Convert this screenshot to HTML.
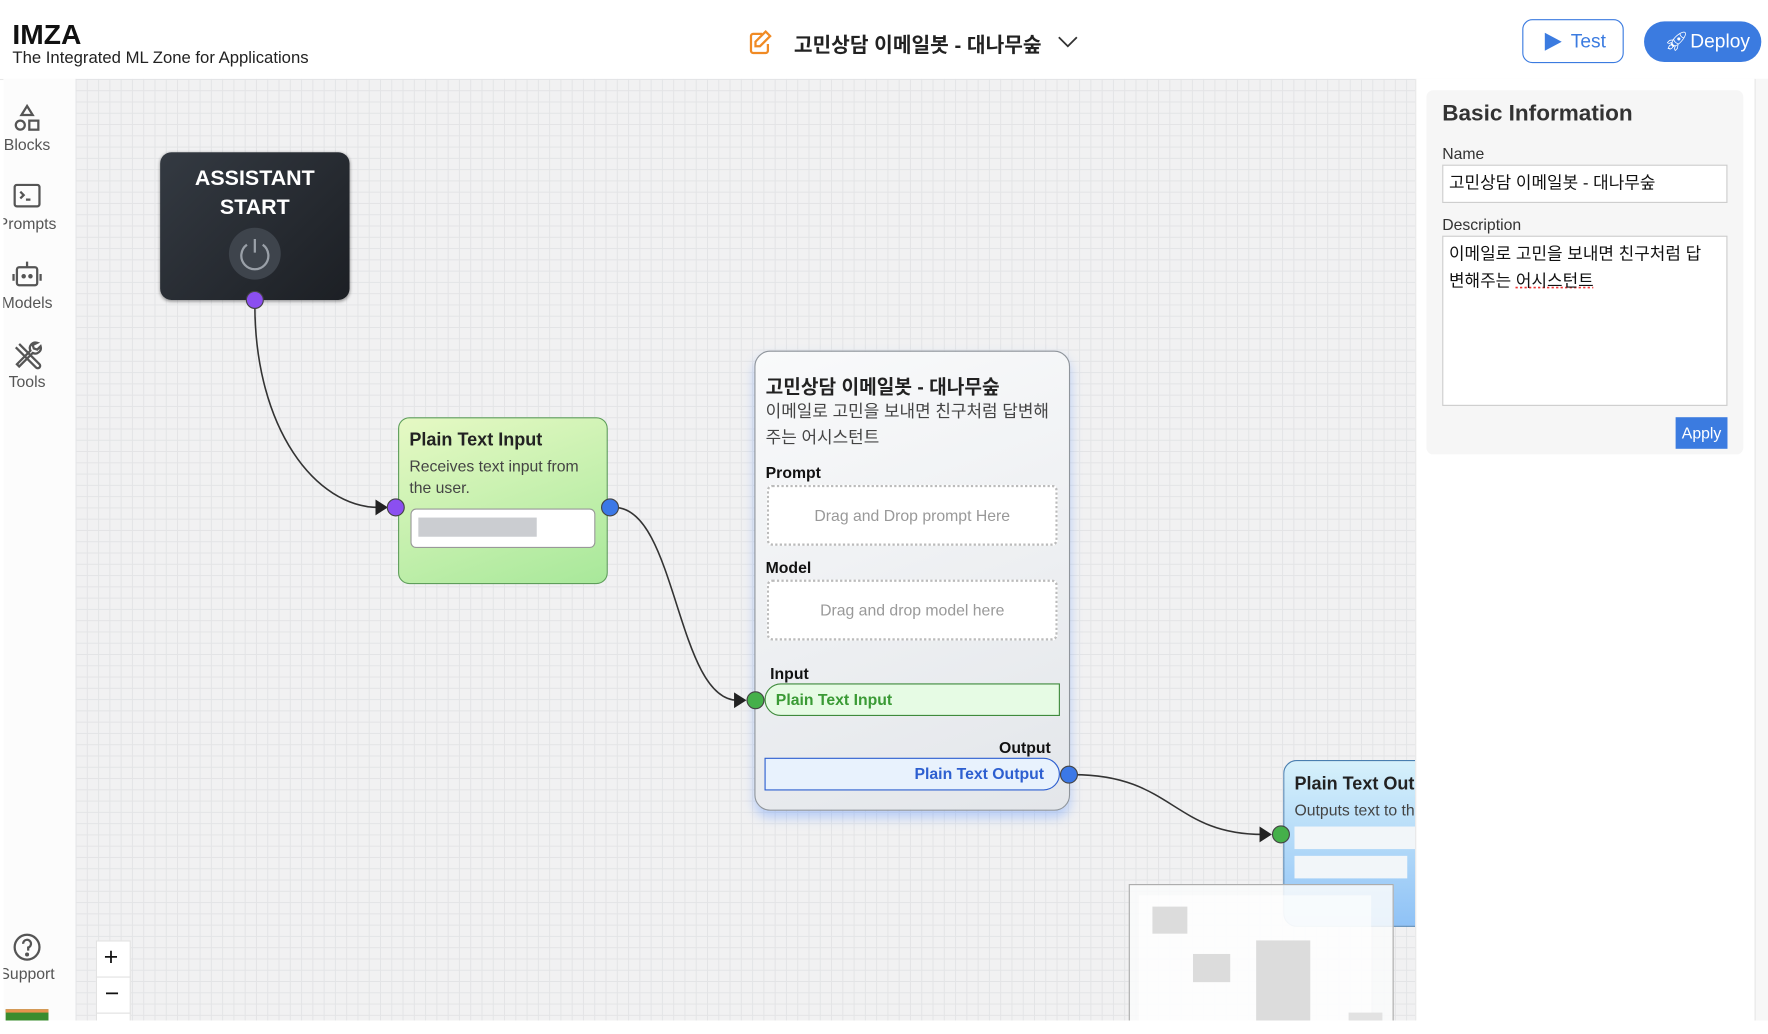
<!DOCTYPE html>
<html><head><meta charset="utf-8">
<style>
html,body{margin:0;padding:0;background:#fff;width:1768px;height:1034px;overflow:hidden}
#w{position:absolute;left:0;top:0;width:1568px;height:905px;transform:scale(1.1276);transform-origin:0 0;font-family:"Liberation Sans","Noto Sans CJK KR",sans-serif;overflow:hidden;background:#fff}
.a{position:absolute}
.canvas{left:67px;top:70px;width:1188px;height:835px;background-color:#f1f1f2;background-image:linear-gradient(#e3e4e6 1px,transparent 1px),linear-gradient(90deg,#e3e4e6 1px,transparent 1px);background-size:10px 10px}
.side{left:3px;top:70px;width:64px;height:835px;background:#fcfcfc;border-right:1px solid #eee;overflow:hidden}
.lbl{position:absolute;width:64px;text-align:center;font-size:14px;color:#555;left:-11px}
.h{position:absolute;width:16px;height:16px;border-radius:50%;border:1px solid #444;box-sizing:border-box}
</style></head><body><div id="w">
<!-- header -->
<div class="a" style="left:0;top:0;width:1568px;height:70px;background:#fff;border-bottom:1px solid #e6e6e6"></div>
<div class="a" style="left:11px;top:17px;font-size:25px;font-weight:bold;color:#111">IMZA</div>
<div class="a" style="left:11px;top:44px;font-size:14.8px;color:#222">The Integrated ML Zone for Applications</div>
<svg class="a" style="left:662px;top:26px" width="24" height="24" viewBox="0 0 24 24"><path d="M14 4H6a2 2 0 0 0-2 2v13a2 2 0 0 0 2 2h11a2 2 0 0 0 2-2v-6" fill="none" stroke="#f08a24" stroke-width="2"/><path d="M17 2l4 4-9 9H8v-4z" fill="none" stroke="#f08a24" stroke-width="2"/></svg>
<div class="a" style="left:704px;top:26px;font-size:18px;font-weight:bold;color:#222">고민상담 이메일봇 - 대나무숲</div>
<svg class="a" style="left:937px;top:30px" width="20" height="14"><path d="M2 3l8 8 8-8" fill="none" stroke="#333" stroke-width="1.6"/></svg>
<div class="a" style="left:1350px;top:17px;width:90px;height:39px;border:1.5px solid #3b7be0;border-radius:9px;box-sizing:border-box"></div>
<svg class="a" style="left:1368px;top:28px" width="18" height="18"><path d="M2 1l15 8-15 8z" fill="#3b7be0"/></svg>
<div class="a" style="left:1393px;top:27px;font-size:17px;color:#3b7be0">Test</div>
<div class="a" style="left:1458px;top:19px;width:104px;height:36px;background:#3b7be0;border-radius:18px"></div>
<div class="a" style="left:1476px;top:27px;font-size:17px;color:#fff">🚀︎</div>
<div class="a" style="left:1499px;top:27px;font-size:17px;color:#fff">Deploy</div>
<!-- sidebar -->
<div class="a side">
 <svg class="a" style="left:8px;top:22px" width="26" height="26" viewBox="0 0 26 26" fill="none" stroke="#555" stroke-width="2"><path d="M13 2l5 8h-10z"/><circle cx="7" cy="19" r="4"/><rect x="15" y="15" width="8" height="8"/></svg>
 <div class="lbl" style="top:50px">Blocks</div>
 <svg class="a" style="left:9px;top:93px" width="26" height="22" fill="none" stroke="#555" stroke-width="2"><rect x="1" y="1" width="22" height="19" rx="2"/><path d="M6 7l3 3-3 3M11 14h4"/></svg>
 <div class="lbl" style="top:120px">Prompts</div>
 <svg class="a" style="left:7px;top:160px" width="28" height="28" fill="none" stroke="#555" stroke-width="2"><rect x="5" y="7" width="18" height="16" rx="2"/><path d="M14 2v5M2 13v6M26 13v6"/><circle cx="11" cy="15" r="1" fill="#555"/><circle cx="17" cy="15" r="1" fill="#555"/></svg>
 <div class="lbl" style="top:190px">Models</div>
 <svg class="a" style="left:8px;top:231px" width="28" height="28" fill="none" stroke="#555" stroke-width="2"><path d="M6 4l18 18a2 2 0 0 1-3 3L3 7M22 3a5 5 0 0 0-6 7L4 22l2 2 12-12a5 5 0 0 0 7-6l-3 3-3-1-1-3z"/></svg>
 <div class="lbl" style="top:260px">Tools</div>
 <svg class="a" style="left:8px;top:757px" width="26" height="26" fill="none" stroke="#555" stroke-width="2"><circle cx="13" cy="13" r="11"/><path d="M9.5 10a3.5 3.5 0 1 1 4.5 3.3V16"/><circle cx="13" cy="19.5" r="0.8" fill="#555"/></svg>
 <div class="lbl" style="top:785px">Support</div>
 <div class="a" style="left:2px;top:825px;width:38px;height:10px;background:#3a8c2e;border-top:3px solid #e6934d"></div>
</div>
<!-- canvas -->
<div class="a canvas"></div>
<svg class="a" style="left:0;top:0" width="1568" height="905">
 <g fill="none" stroke="#333" stroke-width="1.4">
  <path d="M226 270 C226 380 280 450 336 450"/>
  <path d="M545 450 C600 450 600 621 654 621"/>
  <path d="M952 687 C1040 687 1040 740 1120 740"/>
 </g>
 <g fill="#222"><path d="M333 443l11 7-11 7z"/><path d="M651 614l11 7-11 7z"/><path d="M1117 733l11 7-11 7z"/></g>
</svg>
<!-- start node -->
<div class="a" style="left:142px;top:135px;width:168px;height:131px;border-radius:10px;background:linear-gradient(135deg,#343a42,#1c1f24);box-shadow:0 1px 3px rgba(0,0,0,.4)"></div>
<div class="a" style="left:142px;top:146px;width:168px;text-align:center;color:#fff;font-weight:bold;font-size:19px;line-height:26px">ASSISTANT<br>START</div>
<div class="a" style="left:203px;top:202px;width:46px;height:46px;border-radius:50%;background:#3e444c"></div>
<svg class="a" style="left:203px;top:202px" width="46" height="46" fill="none" stroke="#9aa0a8" stroke-width="2"><path d="M16 15a12 12 0 1 0 14 0"/><path d="M23 10v12"/></svg>
<div class="h" style="left:218px;top:258px;background:#8b4ff0"></div>
<!-- plain text input node -->
<div class="a" style="left:353px;top:370px;width:186px;height:148px;border-radius:10px;border:1px solid #5e9e5a;box-sizing:border-box;background:linear-gradient(160deg,#e6f9c4,#a8e89a)"></div>
<div class="a" style="left:363px;top:382px;font-size:16px;font-weight:bold;color:#222">Plain Text Input</div>
<div class="a" style="left:363px;top:404px;font-size:14px;color:#444;line-height:19px;width:170px">Receives text input from the user.</div>
<div class="a" style="left:364px;top:451px;width:164px;height:35px;background:#fff;border:1px solid #999;border-radius:5px;box-sizing:border-box"></div>
<div class="a" style="left:371px;top:459px;width:105px;height:17px;background:#cbcdd1"></div>
<div class="h" style="left:343px;top:442px;background:#8b4ff0"></div>
<div class="h" style="left:533px;top:442px;background:#3b78e7"></div>
<!-- main node -->
<div class="a" style="left:669px;top:311px;width:280px;height:408px;border-radius:14px;border:1.5px solid #8f959c;box-sizing:border-box;background:linear-gradient(160deg,#f9fafb,#e3e6ea);box-shadow:0 6px 10px rgba(80,140,255,.35)"></div>
<div class="a" style="left:679px;top:329px;font-size:17px;font-weight:bold;color:#222">고민상담 이메일봇 - 대나무숲</div>
<div class="a" style="left:679px;top:354px;font-size:15px;color:#444;line-height:23px;width:262px">이메일로 고민을 보내면 친구처럼 답변해주는 어시스턴트</div>
<div class="a" style="left:679px;top:411px;font-size:14px;font-weight:bold;color:#111">Prompt</div>
<div class="a" style="left:680px;top:430px;width:258px;height:54px;border:2px dotted #bbb;border-radius:5px;box-sizing:border-box;background:#fff;text-align:center;line-height:50px;font-size:14px;color:#999">Drag and Drop prompt Here</div>
<div class="a" style="left:679px;top:495px;font-size:14px;font-weight:bold;color:#111">Model</div>
<div class="a" style="left:680px;top:514px;width:258px;height:54px;border:2px dotted #bbb;border-radius:5px;box-sizing:border-box;background:#fff;text-align:center;line-height:50px;font-size:14px;color:#999">Drag and drop model here</div>
<div class="a" style="left:683px;top:589px;font-size:14px;font-weight:bold;color:#111">Input</div>
<div class="a" style="left:678px;top:606px;width:262px;height:29px;border:1px solid #3f8a3c;border-radius:15px 0 0 15px;box-sizing:border-box;background:#e6fbe4"></div>
<div class="a" style="left:688px;top:612px;color:#3a9a35;font-weight:bold;font-size:14px">Plain Text Input</div>
<div class="h" style="left:662px;top:613px;background:#45b04a"></div>
<div class="a" style="left:886px;top:655px;font-size:14px;font-weight:bold;color:#111">Output</div>
<div class="a" style="left:678px;top:672px;width:262px;height:29px;border:1px solid #2d5fd0;border-radius:0 15px 15px 0;box-sizing:border-box;background:#e8f2fd"></div>
<div class="a" style="left:811px;top:678px;color:#2d5fd0;font-weight:bold;font-size:14px">Plain Text Output</div>
<div class="h" style="left:940px;top:679px;background:#3b78e7"></div>
<!-- output node -->
<div class="a" style="left:1138px;top:674px;width:117px;height:148px;overflow:hidden">
 <div class="a" style="left:0;top:0;width:160px;height:148px;border-radius:12px;border:1px solid #4a7fb0;box-sizing:border-box;background:linear-gradient(180deg,#d6f1fb,#8fc2f6)"></div>
 <div class="a" style="left:10px;top:13px;font-size:16px;font-weight:bold;color:#222;white-space:nowrap">Plain Text Output</div>
 <div class="a" style="left:10px;top:36px;font-size:14px;color:#444;white-space:nowrap">Outputs text to the user</div>
 <div class="a" style="left:10px;top:59px;width:140px;height:20px;background:#f2f6f9"></div>
 <div class="a" style="left:10px;top:85px;width:100px;height:20px;background:#f2f6f9"></div>
</div>
<div class="h" style="left:1128px;top:732px;background:#45b04a"></div>
<!-- minimap -->
<div class="a" style="left:1001px;top:784px;width:235px;height:130px;border:1px solid #aaa;box-sizing:border-box;background:rgba(250,251,252,.85)"></div>
<div class="a" style="left:1010px;top:794px;width:206px;height:120px;background:rgba(255,255,255,.6)"></div>
<div class="a" style="left:1022px;top:804px;width:31px;height:24px;background:#dcdcdc"></div>
<div class="a" style="left:1058px;top:846px;width:33px;height:25px;background:#dcdcdc"></div>
<div class="a" style="left:1114px;top:834px;width:48px;height:80px;background:#dcdcdc"></div>
<div class="a" style="left:1196px;top:898px;width:30px;height:10px;background:#e2e2e2"></div>
<!-- zoom controls -->
<div class="a" style="left:85px;top:834px;width:31px;height:80px;background:#fff;border:1px solid #e2e2e2;box-sizing:border-box"></div>
<div class="a" style="left:85px;top:866px;width:31px;height:1px;background:#e2e2e2"></div>
<div class="a" style="left:85px;top:898px;width:31px;height:1px;background:#e2e2e2"></div>
<div class="a" style="left:92px;top:836px;font-size:22px;color:#111">+</div>
<div class="a" style="left:93px;top:868px;font-size:22px;color:#111">−</div>
<!-- right panel -->
<div class="a" style="left:1255px;top:70px;width:313px;height:835px;background:#fff;border-left:1px solid #e6e6e6"></div>
<div class="a" style="left:1556px;top:70px;width:12px;height:835px;background:#f7f7f7;border-left:1px solid #e6e6e6"></div>
<div class="a" style="left:1265px;top:80px;width:281px;height:323px;background:#f6f6f6;border-radius:6px"></div>
<div class="a" style="left:1279px;top:90px;font-size:20px;font-weight:bold;color:#333">Basic Information</div>
<div class="a" style="left:1279px;top:128px;font-size:14px;color:#333">Name</div>
<div class="a" style="left:1279px;top:146px;width:253px;height:34px;background:#fff;border:1px solid #ccc;box-sizing:border-box;font-size:15px;color:#111;line-height:32px;padding-left:5px">고민상담 이메일봇 - 대나무숲</div>
<div class="a" style="left:1279px;top:191px;font-size:14px;color:#333">Description</div>
<div class="a" style="left:1279px;top:209px;width:253px;height:151px;background:#fff;border:1px solid #ccc;box-sizing:border-box;font-size:15px;color:#111;line-height:24px;padding:4px 14px 4px 5px;word-break:break-all">이메일로 고민을 보내면 친구처럼 답변해주는 <span style="text-decoration:underline dotted #e33">어시스턴트</span></div>
<div class="a" style="left:1486px;top:370px;width:46px;height:28px;background:#3b7be0;color:#fff;font-size:14px;text-align:center;line-height:28px">Apply</div>
</div></body></html>
